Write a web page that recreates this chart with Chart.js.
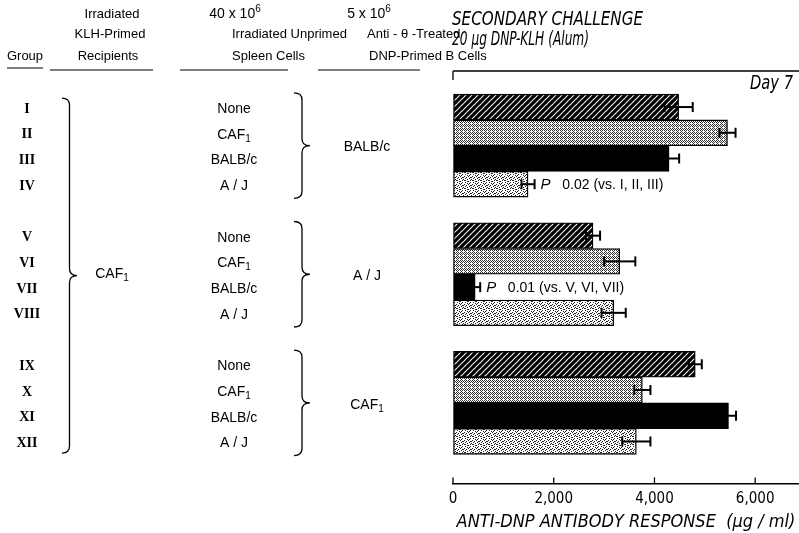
<!DOCTYPE html>
<html>
<head>
<meta charset="utf-8">
<script src="https://cdn.jsdelivr.net/npm/chart.js@4.4.1/dist/chart.umd.min.js"></script>
<style>
  html, body { margin: 0; padding: 0; background: #fff; }
</style>
</head>
<body>
<canvas id="chart" width="799" height="533"></canvas>
<script>
// groups I..XII, position of each row on the index axis (gaps between the three blocks)
const groupLabels = ["I", "II", "III", "IV", "V", "VI", "VII", "VIII", "IX", "X", "XI", "XII"];
const rowPos = [0, 1, 2, 3, 5, 6, 7, 8, 10, 11, 12, 13];
const spleenCells = ["None", "CAF1", "BALB/c", "A / J", "None", "CAF1", "BALB/c", "A / J", "None", "CAF1", "BALB/c", "A / J"];
const donorBCells = ["BALB/c", "A / J", "CAF1"];
const recipients = "CAF1";
// anti-DNP response (ug/ml) and error
const response = [4480, 5450, 4290, 1490, 2780, 3310, 440, 3190, 4810, 3760, 5470, 3640];
const errors = [280, 160, 200, 130, 140, 310, 100, 240, 130, 160, 150, 280];
const xTicks = [0, 2000, 4000, 6000];
const pNotes = [
  { group: 3, p: "0.02", vs: "(vs. I, II, III)" },
  { group: 6, p: "0.01", vs: "(vs. V, VI, VII)" }
];

const SANS = '"Liberation Sans", Arial, sans-serif';
const NARROW = '"Liberation Sans Narrow", "DejaVu Sans Condensed", "Liberation Sans", sans-serif';
const SERIF = '"Liberation Serif", "DejaVu Serif", serif';

// --- fill patterns ---
function makeTile(size, draw) {
  const c = document.createElement("canvas");
  c.width = size; c.height = size;
  const g = c.getContext("2d");
  g.fillStyle = "#fff";
  g.fillRect(0, 0, size, size);
  draw(g);
  return g.createPattern(c, "repeat");
}
function maskTile(mask, n, dark) {
  return makeTile(n, g => {
    g.fillStyle = dark;
    mask.forEach((v, i) => { if (v) g.fillRect(i % n, Math.floor(i / n), 1, 1); });
  });
}
const hatch = makeTile(6, g => {
  g.strokeStyle = "#000";
  g.lineWidth = 3.2;
  g.beginPath();
  g.moveTo(-1, 7); g.lineTo(7, -1);
  g.moveTo(-1, 1); g.lineTo(1, -1);
  g.moveTo(5, 7); g.lineTo(7, 5);
  g.stroke();
});
const fineDots = maskTile([
  1, 0, 1, 0,
  0, 1, 0, 1,
  1, 0, 1, 0,
  0, 1, 0, 0
], 4, "#333");
const coarseDots = maskTile([
  1, 0, 0, 0, 1, 0, 0, 0,
  0, 0, 1, 0, 0, 0, 1, 1,
  0, 1, 0, 0, 0, 1, 0, 0,
  0, 0, 0, 1, 0, 0, 0, 1,
  1, 1, 0, 0, 0, 0, 1, 0,
  0, 0, 0, 1, 1, 0, 0, 0,
  0, 1, 0, 0, 0, 0, 1, 0,
  0, 0, 0, 1, 0, 1, 0, 0
], 8, "#222");
const fills = [hatch, fineDots, "#000", coarseDots];

// --- text helpers ---
function partsFor(s, size) {
  if (s.endsWith("1") && s.startsWith("CAF")) {
    return [["CAF", size + "px " + SANS, 0], ["1", (size - 4) + "px " + SANS, 4]];
  }
  return [[s, size + "px " + SANS, 0]];
}
function rich(ctx, parts, x, y, align) {
  let w = 0;
  parts.forEach(p => { ctx.font = p[1]; w += ctx.measureText(p[0]).width; });
  let cx = align === "center" ? x - w / 2 : align === "right" ? x - w : x;
  ctx.textAlign = "left";
  parts.forEach(p => {
    ctx.font = p[1];
    ctx.fillText(p[0], cx, y + (p[2] || 0));
    cx += ctx.measureText(p[0]).width;
  });
}
// condensed text squeezed to a given width
function fitText(ctx, s, x, y, font, width, align) {
  ctx.font = font;
  const k = width / ctx.measureText(s).width;
  ctx.save();
  ctx.translate(x, y);
  ctx.scale(k, 1);
  ctx.textAlign = align;
  ctx.fillText(s, 0, 0);
  ctx.restore();
}
function line(ctx, x1, y1, x2, y2, w) {
  ctx.lineWidth = w || 1.2;
  ctx.beginPath(); ctx.moveTo(x1, y1); ctx.lineTo(x2, y2); ctx.stroke();
}
function brace(ctx, x, top, bot, w) {
  const mid = (top + bot) / 2, r = 7, xm = x + w * 0.5;
  ctx.lineWidth = 1.3;
  ctx.beginPath();
  ctx.moveTo(x, top);
  ctx.quadraticCurveTo(xm, top, xm, top + r);
  ctx.lineTo(xm, mid - r);
  ctx.quadraticCurveTo(xm, mid, x + w, mid);
  ctx.quadraticCurveTo(xm, mid, xm, mid + r);
  ctx.lineTo(xm, bot - r);
  ctx.quadraticCurveTo(xm, bot, x, bot);
  ctx.stroke();
}

const figurePlugin = {
  id: "figure",
  beforeDraw(chart) {
    const ctx = chart.ctx;
    ctx.save();
    ctx.fillStyle = "#fff";
    ctx.fillRect(0, 0, chart.width, chart.height);
    ctx.restore();
  },
  afterDraw(chart) {
    const { ctx, scales: { x, y }, chartArea: ca } = chart;
    ctx.save();
    ctx.fillStyle = "#000";
    ctx.strokeStyle = "#000";
    ctx.textBaseline = "middle";

    // error bars
    response.forEach((v, i) => {
      const yc = y.getPixelForValue(rowPos[i]);
      const x1 = x.getPixelForValue(v - errors[i]);
      const x2 = x.getPixelForValue(v + errors[i]);
      line(ctx, x1, yc, x2, yc, 2);
      line(ctx, x1, yc - 5, x1, yc + 5, 2);
      line(ctx, x2, yc - 5, x2, yc + 5, 2);
    });

    // P-value notes
    pNotes.forEach(n => {
      const i = n.group;
      const xs = x.getPixelForValue(response[i] + errors[i]) + 6;
      const yc = y.getPixelForValue(rowPos[i]) + 1;
      rich(ctx, [["P", "italic 15px " + SANS, 0], ["   " + n.p + " " + n.vs, "14px " + SANS, 0]], xs, yc, "left");
    });

    // x ticks pointing up
    xTicks.forEach(t => {
      const px = x.getPixelForValue(t);
      line(ctx, px, ca.bottom, px, ca.bottom - 6, 1.3);
    });

    // frame line on top and Day 7
    line(ctx, ca.left, 71, ca.right, 71, 1.3);
    line(ctx, ca.left, 71, ca.left, 80, 1.3);
    fitText(ctx, "Day 7", 793, 84, "italic 20px " + NARROW, 43, "right");

    // titles
    fitText(ctx, "SECONDARY CHALLENGE", 452, 20, "italic 20px " + NARROW, 191, "left");
    fitText(ctx, "20 \u03bcg DNP-KLH (Alum)", 452, 40, "italic 20px " + NARROW, 137, "left");

    // table headers
    ctx.textAlign = "center";
    ctx.font = "13px " + SANS;
    ctx.fillText("Group", 25, 56);
    ctx.fillText("Irradiated", 112, 14);
    ctx.fillText("KLH-Primed", 110, 34);
    ctx.fillText("Recipients", 108, 56);
    rich(ctx, [["40 x 10", "14px " + SANS, 0], ["6", "10px " + SANS, -5]], 235, 14, "center");
    ctx.font = "13px " + SANS;
    ctx.fillText("Irradiated Unprimed", 232, 34);
    ctx.fillText("Spleen Cells", 232, 56);
    rich(ctx, [["5 x 10", "14px " + SANS, 0], ["6", "10px " + SANS, -5]], 369, 14, "center");
    ctx.font = "13px " + SANS;
    ctx.fillText("Anti - \u03b8 -Treated", 367, 34);
    ctx.fillText("DNP-Primed B Cells", 369, 56);
    line(ctx, 7, 68, 43, 68);
    line(ctx, 50, 70, 153, 70);
    line(ctx, 180, 70, 288, 70);
    line(ctx, 318, 70, 420, 70);

    // table rows
    groupLabels.forEach((g, i) => {
      const yc = y.getPixelForValue(rowPos[i]) + 2;
      ctx.font = "bold 14px " + SERIF;
      ctx.textAlign = "center";
      ctx.fillText(g, 27, yc);
      rich(ctx, partsFor(spleenCells[i], 14), 234, yc, "center");
    });

    // braces and grouped labels
    brace(ctx, 62, y.getPixelForValue(-0.35), y.getPixelForValue(13.45), 15);
    rich(ctx, partsFor(recipients, 14), 112, y.getPixelForValue(6.5), "center");
    donorBCells.forEach((d, k) => {
      const r0 = k * 5;
      brace(ctx, 294, y.getPixelForValue(r0 - 0.55), y.getPixelForValue(r0 + 3.55), 16);
      rich(ctx, partsFor(d, 14), 367, y.getPixelForValue(r0 + 1.5) + 2, "center");
    });

    ctx.restore();
  }
};

new Chart(document.getElementById("chart"), {
  type: "bar",
  data: {
    datasets: [{
      data: rowPos.map((r, i) => ({ x: response[i], y: r })),
      backgroundColor: rowPos.map((r, i) => fills[i % 4]),
      borderColor: "#000",
      borderWidth: 1.3,
      borderSkipped: false,
      barPercentage: 1,
      categoryPercentage: 1
    }]
  },
  options: {
    indexAxis: "y",
    responsive: false,
    animation: false,
    devicePixelRatio: 1,
    layout: { padding: { left: 453, top: 70, right: 0, bottom: 0 } },
    plugins: { legend: { display: false }, tooltip: { enabled: false } },
    scales: {
      y: {
        type: "linear",
        reverse: true,
        offset: false,
        min: -1.44,
        max: 14.63,
        display: false,
        grid: { offset: false },
        ticks: { stepSize: 1, includeBounds: false }
      },
      x: {
        type: "linear",
        min: 0,
        max: 6870,
        grid: { drawOnChartArea: false, drawTicks: false },
        border: { display: true, color: "#000", width: 1.5 },
        afterBuildTicks: axis => { axis.ticks = xTicks.map(v => ({ value: v })); },
        ticks: {
          padding: 7,
          color: "#000",
          font: { family: NARROW, size: 15 },
          callback: v => (v === 0 ? "0" : v.toLocaleString("en-US"))
        },
        title: {
          display: true,
          text: "ANTI-DNP ANTIBODY RESPONSE  (\u03bcg / ml)",
          color: "#000",
          font: { family: NARROW, size: 18, style: "italic" },
          padding: { top: -4, bottom: 0 }
        }
      }
    }
  },
  plugins: [figurePlugin]
});
</script>
</body>
</html>
